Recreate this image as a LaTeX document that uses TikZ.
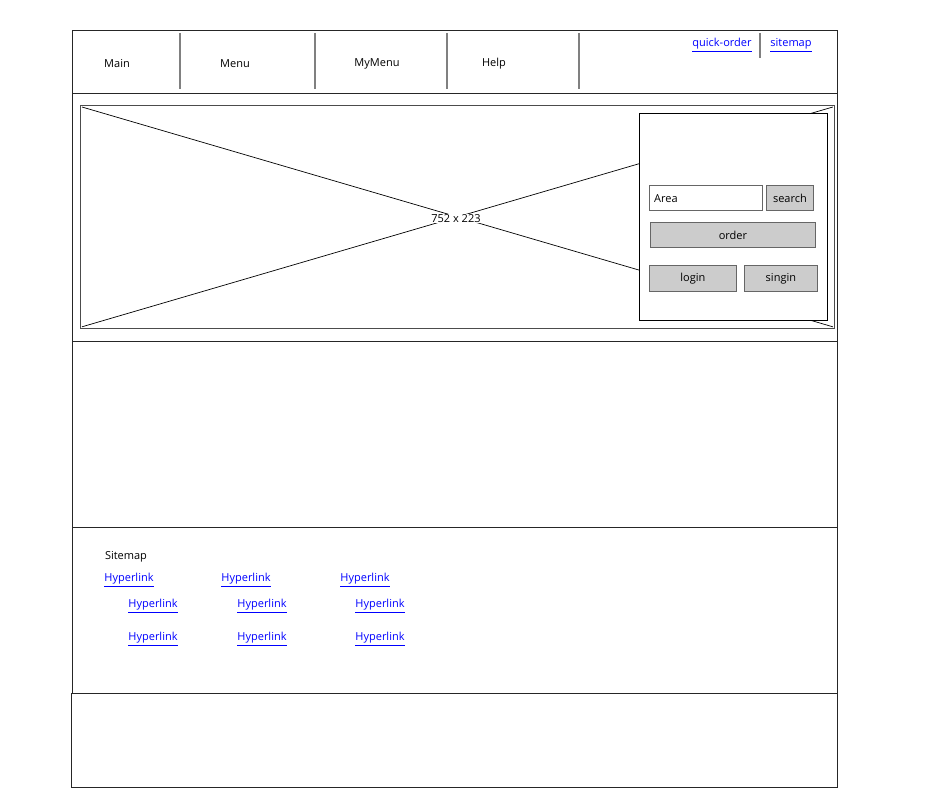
\documentclass[tikz,border=0pt]{standalone}
\usepackage{fontspec}
\setmainfont{Open Sans}
\begin{document}
\begin{tikzpicture}[x=1pt,y=-1pt,
  sect/.style={draw=black!85, line width=0.8pt, anchor=north west, inner sep=0pt},
  sep/.style={draw=black!50, line width=1.6pt},
  btn/.style={draw=black!60, fill=black!20, line width=0.8pt, inner sep=0pt, font=\fontsize{11}{13}\selectfont},
  field/.style={draw=black!60, fill=white, line width=0.8pt, inner sep=0pt},
  lbl/.style={font=\fontsize{11}{13}\selectfont, inner sep=1pt, yshift=-1.5pt},
  lnk/.style={font=\fontsize{11}{13}\selectfont, text=blue, inner sep=1pt, yshift=-1pt}]
\useasboundingbox (0,0) rectangle (941,800);
% sections
\node[sect, minimum width=765pt, minimum height=63pt] (hdr) at (72,30) {};
\node[sect, minimum width=765pt, minimum height=248pt] (hero) at (72,93) {};
\node[sect, minimum width=765pt, minimum height=186pt] (body) at (72,341) {};
\node[sect, minimum width=765pt, minimum height=166pt] (smap) at (72,527) {};
\node[sect, minimum width=766pt, minimum height=94pt] (foot) at (71,693) {};
% header separators
\foreach \x/\n in {180/s1,315/s2,447/s3,579/s4}{
  \coordinate (\n t) at (\x,33); \coordinate (\n b) at (\x,89);
  \draw[sep] (\n t) -- (\n b);}
\node[lbl] (m1) at (117,62) {Main};
\node[lbl] (m2) at (235,62) {Menu};
\node[lbl] (m3) at (377,62) {MyMenu};
\node[lbl] (m4) at (494,62) {Help};
\node[lnk] (qo) at (722,44) {\underline{quick-order}};
\coordinate (s5t) at (760,33); \coordinate (s5b) at (760,58);
\draw[sep] (s5t) -- (s5b);
\node[lnk] (sm) at (791,44) {\underline{sitemap}};
% image placeholder
\node[draw=black!70, line width=0.8pt, anchor=north west, inner sep=0pt, minimum width=754pt, minimum height=223pt] (img) at (80,105) {};
\draw[line width=0.7pt] ([shift={(2pt,-2pt)}]img.north west) -- ([shift={(-2pt,2pt)}]img.south east);
\draw[line width=0.7pt] ([shift={(2pt,2pt)}]img.south west) -- ([shift={(-2pt,-2pt)}]img.north east);
\node[lbl, fill=white, inner sep=0.5pt] (imglbl) at (456,217) {752 x 223};
% panel
\node[draw=black, fill=white, line width=0.8pt, anchor=north west, inner sep=0pt, minimum width=188pt, minimum height=207pt] (panel) at (639,113) {};
\node[field, anchor=north west, minimum width=113pt, minimum height=25pt] (area) at (649,185) {};
\node[lbl, anchor=west] (areat) at (653,197.5) {Area};
\node[btn, anchor=north west, minimum width=47pt, minimum height=25pt] (search) at (766,185) {search};
\node[btn, anchor=north west, minimum width=165pt, minimum height=25pt] (order) at (650,222) {order};
\node[btn, anchor=north west, minimum width=87pt, minimum height=26pt] (login) at (649,265) {login};
\node[btn, anchor=north west, minimum width=73pt, minimum height=26pt] (singin) at (744,265) {singin};
% sitemap
\node[lbl] (smt) at (126,555) {Sitemap};
\node[lnk] (h1) at (129,579) {\underline{Hyperlink}};
\node[lnk] (h2) at (246,579) {\underline{Hyperlink}};
\node[lnk] (h3) at (365,579) {\underline{Hyperlink}};
\node[lnk] (h4) at (153,605) {\underline{Hyperlink}};
\node[lnk] (h5) at (262,605) {\underline{Hyperlink}};
\node[lnk] (h6) at (380,605) {\underline{Hyperlink}};
\node[lnk] (h7) at (153,638) {\underline{Hyperlink}};
\node[lnk] (h8) at (262,638) {\underline{Hyperlink}};
\node[lnk] (h9) at (380,638) {\underline{Hyperlink}};
\end{tikzpicture}
\end{document}
